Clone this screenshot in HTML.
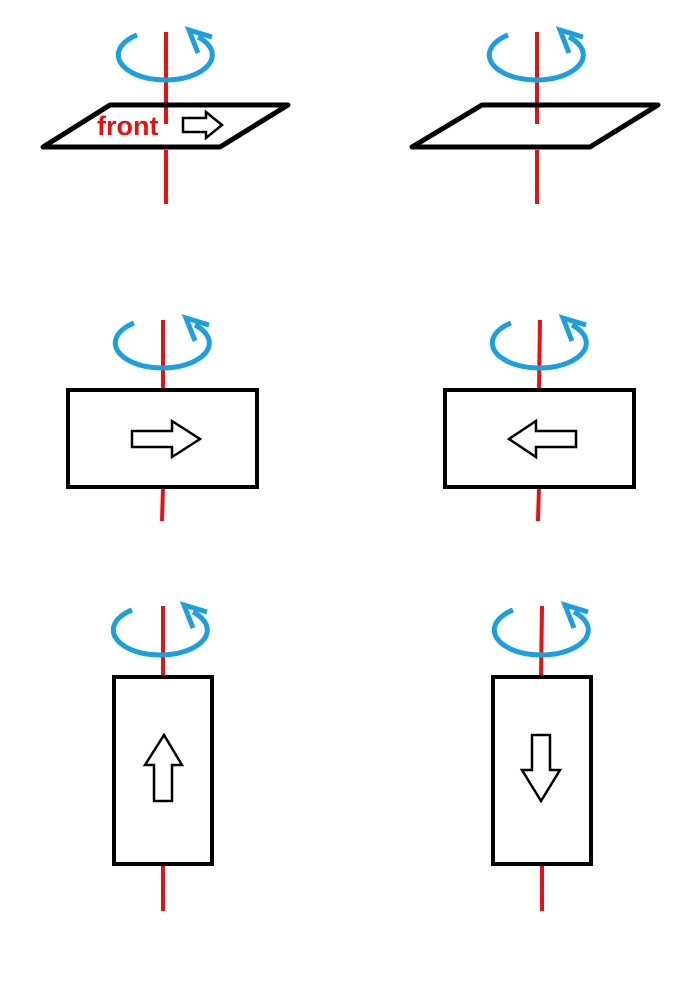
<!DOCTYPE html>
<html><head><meta charset="utf-8"><style>html,body{margin:0;padding:0;background:#fff}svg{display:block}</style></head>
<body>
<svg width="700" height="1000" viewBox="0 0 700 1000" xmlns="http://www.w3.org/2000/svg">
<defs>
<g id="rot" fill="none" stroke="#1aa0e0" stroke-width="5" stroke-linecap="butt">
<path d="M-28,-20 A47 25 0 1 0 33,-18"/>
<path d="M47,-18 L24,-25 L33,-2"/>
</g>
</defs>
<g stroke="#e81010" stroke-width="4" fill="none">
<line x1="166" y1="32" x2="166" y2="124"/><line x1="166" y1="150" x2="166" y2="204"/>
<line x1="537" y1="32" x2="537" y2="124"/><line x1="537" y1="150" x2="537" y2="204"/>
<line x1="163" y1="320" x2="163" y2="390"/><line x1="163" y1="487" x2="162" y2="521"/>
<line x1="540" y1="320" x2="539" y2="390"/><line x1="539" y1="487" x2="538" y2="521"/>
<line x1="163" y1="606" x2="163" y2="677"/><line x1="163" y1="864" x2="163" y2="911"/>
<line x1="542" y1="606" x2="541" y2="677"/><line x1="542" y1="864" x2="542" y2="911"/>
</g>
<use href="#rot" x="165" y="55"/>
<use href="#rot" x="536" y="55"/>
<use href="#rot" x="162" y="343"/>
<use href="#rot" x="539" y="343"/>
<use href="#rot" x="160" y="630"/>
<use href="#rot" x="541" y="630"/>
<g fill="none" stroke="#000" stroke-width="5" stroke-linejoin="round">
<polygon points="43,147 110,105 288,105 220,147"/>
<polygon points="412,147 482,105 658,105 590,147"/>
</g>
<g fill="none" stroke="#000" stroke-width="4">
<rect x="68" y="390" width="189" height="97"/>
<rect x="445" y="390" width="189" height="97"/>
<rect x="114" y="677" width="98" height="187"/>
<rect x="493" y="677" width="98" height="187"/>
</g>
<g fill="none" stroke="#000" stroke-width="2.5" stroke-linejoin="miter">
<polygon points="183,118 206,118 206,112 222,125 206,138 206,132 183,132"/>
<polygon points="132,431 172,431 172,421 200,439 172,457 172,447 132,447"/>
<polygon points="576,431 536,431 536,421 509,439 536,457 536,447 576,447"/>
<polygon points="154,801 154,765 145,765 164,735 182,765 172,765 172,801"/>
<polygon points="532,735 550,735 550,770 560,770 541,801 522,770 532,770"/>
</g>
<text x="97" y="135" font-family="Liberation Sans, sans-serif" font-weight="bold" font-size="27" fill="#e81010">front</text>
</svg>
</body></html>
